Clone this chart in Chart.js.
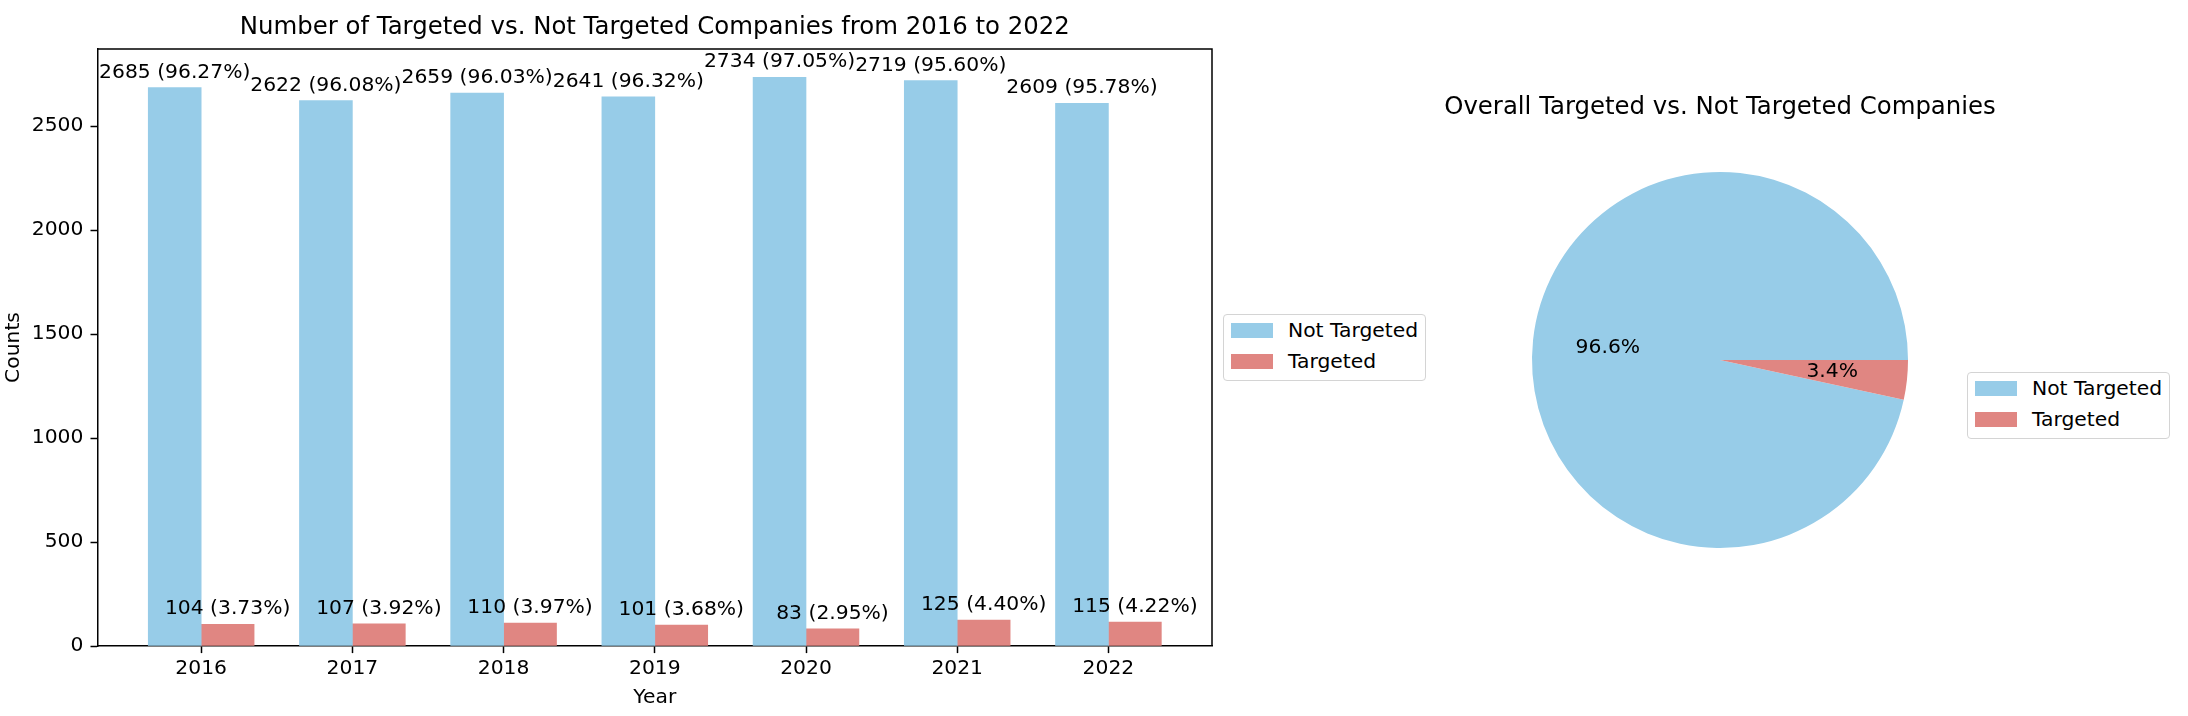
<!DOCTYPE html>
<html>
<head>
<meta charset="utf-8">
<script src="https://cdn.jsdelivr.net/npm/chart.js@4"></script>
<style>
  body { margin: 0; width: 2188px; height: 716px; background: #fff; position: relative; overflow: hidden; font-family: "DejaVu Sans", sans-serif; }
  #barWrap { position: absolute; left: 0; top: 0; width: 1220px; height: 716px; }
  #pieWrap { position: absolute; left: 1440px; top: 0; width: 560px; height: 716px; }
  .legend { position: absolute; width: 203px; height: 67px; border: 1px solid #d4d4d4; border-radius: 4px; box-sizing: border-box; background: #fff; font-size: 20.3px; color: #000; }
  .legend .sw { position: absolute; left: 7px; width: 42px; height: 15px; }
  .legend .tx { position: absolute; left: 64px; height: 24px; line-height: 24px; white-space: nowrap; }
</style>
</head>
<body>
<div id="barWrap"><canvas id="barChart"></canvas></div>
<div id="pieWrap"><canvas id="pieChart"></canvas></div>
<div class="legend" id="barLegend" style="left:1223px; top:314px;"></div>
<div class="legend" id="pieLegend" style="left:1967px; top:372px;"></div>
<script>
// data
const years = ['2016', '2017', '2018', '2019', '2020', '2021', '2022'];
const notTargeted = [2685, 2622, 2659, 2641, 2734, 2719, 2609];
const targeted = [104, 107, 110, 101, 83, 125, 115];
const yTicks = [0, 500, 1000, 1500, 2000, 2500];
const pieLabels = ['Not Targeted', 'Targeted'];
const pieShares = [96.6, 3.4];

const BLUE = '#97cce8';
const RED = '#e08682';
const barWidth = 0.35;
const FS = 20.3;   // 10pt
const TS = 24.4;   // 12pt

Chart.defaults.font.family = 'DejaVu Sans';
Chart.defaults.color = '#000';

// legends (html)
function makeLegend(id) {
    const box = document.getElementById(id);
    [BLUE, RED].forEach((c, i) => {
        const sw = document.createElement('div');
        sw.className = 'sw';
        sw.style.background = c;
        sw.style.top = (8 + i * 31) + 'px';
        box.appendChild(sw);
        const tx = document.createElement('div');
        tx.className = 'tx';
        tx.style.top = (3 + i * 31) + 'px';
        tx.textContent = pieLabels[i];
        box.appendChild(tx);
    });
}
makeLegend('barLegend');
makeLegend('pieLegend');

// matplotlib-like x limits (5% margin round the bars)
const lo = -barWidth, hi = years.length - 1 + barWidth;
const pad = (hi - lo) * 0.05;
const yMax = Math.max(...notTargeted) * 1.05;

const barLabels = {
    id: 'barLabels',
    afterDatasetsDraw(chart) {
        const ctx = chart.ctx;
        ctx.save();
        ctx.font = FS + 'px "DejaVu Sans"';
        ctx.fillStyle = '#000';
        ctx.textAlign = 'center';
        ctx.textBaseline = 'alphabetic';
        chart.data.datasets.forEach((ds, d) => {
            chart.getDatasetMeta(d).data.forEach((bar, i) => {
                const v = ds.data[i].y;
                const pct = (v / (notTargeted[i] + targeted[i]) * 100).toFixed(2);
                ctx.fillText(v + ' (' + pct + '%)', bar.x, bar.y - 10);
            });
        });
        ctx.restore();
    }
};

const frame = {
    id: 'frame',
    afterDraw(chart) {
        const a = chart.chartArea, ctx = chart.ctx;
        ctx.save();
        ctx.strokeStyle = '#000';
        ctx.lineWidth = 1.5;
        ctx.beginPath();
        ctx.moveTo(a.left, a.top);
        ctx.lineTo(a.right, a.top);
        ctx.lineTo(a.right, a.bottom);
        ctx.stroke();
        ctx.restore();
    }
};

new Chart(document.getElementById('barChart'), {
    type: 'bar',
    data: {
        datasets: [{
            label: 'Not Targeted',
            data: notTargeted.map((v, i) => ({ x: i - barWidth / 2, y: v })),
            backgroundColor: BLUE
        }, {
            label: 'Targeted',
            data: targeted.map((v, i) => ({ x: i + barWidth / 2, y: v })),
            backgroundColor: RED
        }]
    },
    options: {
        responsive: true,
        maintainAspectRatio: false,
        animation: false,
        grouped: false,
        categoryPercentage: 1,
        barPercentage: 1,
        layout: { padding: { left: 0, right: 8, top: 0, bottom: 0 } },
        plugins: {
            legend: { display: false },
            tooltip: { enabled: false },
            title: {
                display: true,
                fullSize: false,
                text: 'Number of Targeted vs. Not Targeted Companies from 2016 to 2022',
                font: { size: TS, weight: 'normal' },
                padding: { top: 13.4, bottom: 6.3 }
            }
        },
        scales: {
            x: {
                type: 'linear',
                offset: false,
                min: lo - pad,
                max: hi + pad,
                afterBuildTicks: s => { s.ticks = years.map((y, i) => ({ value: i })); },
                afterFit: s => { s.height = 70; },
                ticks: { font: { size: FS }, padding: 3, callback: (v, i) => years[i], maxRotation: 0 },
                grid: { offset: false, drawOnChartArea: false, drawTicks: true, tickLength: 7.1, tickColor: '#000', tickWidth: 1.5 },
                border: { color: '#000', width: 1.5 },
                title: { display: true, text: 'Year', font: { size: FS }, padding: { top: 0, bottom: 6 } }
            },
            y: {
                min: 0,
                max: yMax,
                afterBuildTicks: s => { s.ticks = yTicks.map(v => ({ value: v })); },
                afterFit: s => { s.width = 97.6; },
                ticks: { font: { size: FS }, padding: 7.1, callback: v => String(v) },
                grid: { drawOnChartArea: false, drawTicks: true, tickLength: 7.1, tickColor: '#000', tickWidth: 1.5 },
                border: { color: '#000', width: 1.5 },
                title: { display: true, text: 'Counts', font: { size: FS }, padding: { top: 2, bottom: 0 } }
            }
        }
    },
    plugins: [barLabels, frame]
});

const pieText = {
    id: 'pieText',
    afterDatasetsDraw(chart) {
        const ctx = chart.ctx;
        const total = pieShares.reduce((a, b) => a + b, 0);
        ctx.save();
        ctx.font = FS + 'px "DejaVu Sans"';
        ctx.fillStyle = '#000';
        ctx.textAlign = 'center';
        ctx.textBaseline = 'middle';
        chart.getDatasetMeta(0).data.forEach((arc, i) => {
            const mid = (arc.startAngle + arc.endAngle) / 2;
            const r = arc.outerRadius * 0.6;
            ctx.fillText((pieShares[i] / total * 100).toFixed(1) + '%', arc.x + Math.cos(mid) * r, arc.y + Math.sin(mid) * r);
        });
        ctx.restore();
    }
};

new Chart(document.getElementById('pieChart'), {
    type: 'pie',
    data: {
        labels: pieLabels,
        datasets: [{
            data: pieShares,
            backgroundColor: [BLUE, RED],
            borderWidth: 0
        }]
    },
    options: {
        responsive: true,
        maintainAspectRatio: false,
        animation: false,
        // matplotlib starts at 3 o'clock and goes counter-clockwise
        rotation: 90 + 360 * pieShares[1] / (pieShares[0] + pieShares[1]),
        layout: { padding: { top: 0, bottom: 168, left: 0, right: 0 } },
        plugins: {
            legend: { display: false },
            tooltip: { enabled: false },
            title: {
                display: true,
                text: 'Overall Targeted vs. Not Targeted Companies',
                font: { size: TS, weight: 'normal' },
                padding: { top: 92.8, bottom: 49.9 }
            }
        }
    },
    plugins: [pieText]
});
</script>
</body>
</html>
